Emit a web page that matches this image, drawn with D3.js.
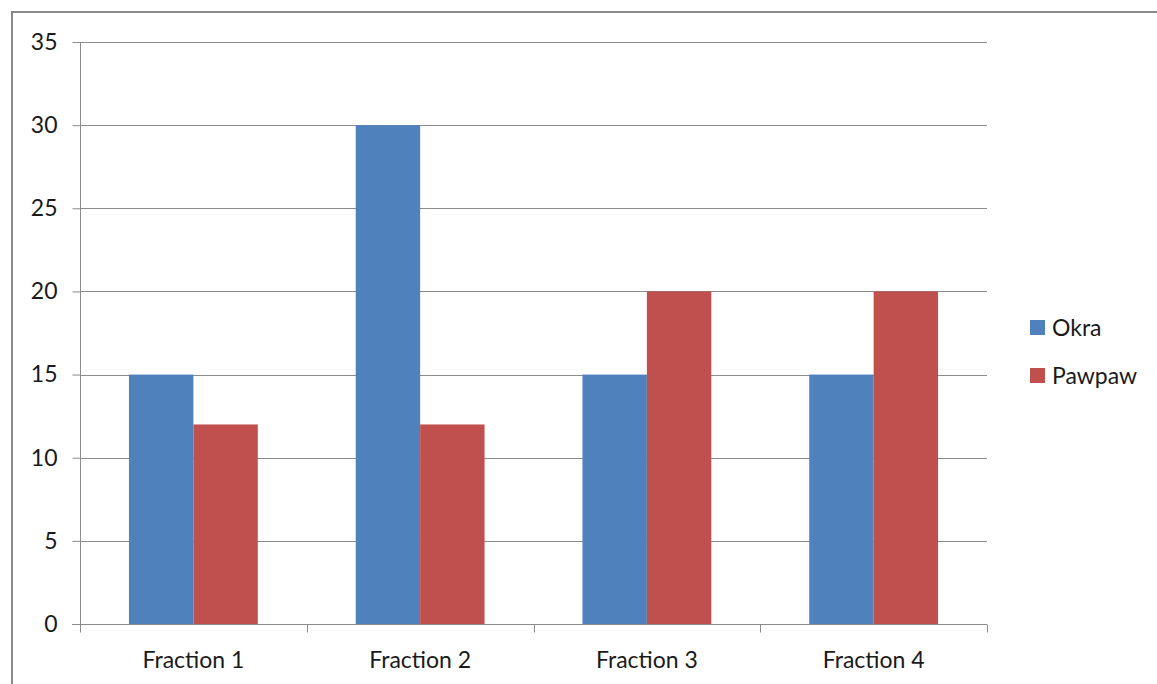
<!DOCTYPE html>
<html>
<head>
<meta charset="utf-8">
<script src="https://cdn.jsdelivr.net/npm/d3@7/dist/d3.min.js"></script>
<style>
  html, body { margin: 0; padding: 0; background: #fff; }
  svg { display: block; }
  text { font-family: Lato, "Open Sans", sans-serif; fill: #1a1a1a; }
</style>
</head>
<body>
<svg id="chart" width="1157" height="684"></svg>
<script>
const categories = ["Fraction 1", "Fraction 2", "Fraction 3", "Fraction 4"];
const seriesNames = ["Okra", "Pawpaw"];
const okra = [15, 30, 15, 15];
const pawpaw = [12, 12, 20, 20];
const yTicks = [0, 5, 10, 15, 20, 25, 30, 35];
const colors = ["#4F81BD", "#C0504D"];

const svg = d3.select("#chart");
const W = 1157, H = 684;
const FONT = "Lato, 'Open Sans', sans-serif";
const FS = "23px";

// outer chart frame
svg.append("rect")
  .attr("x", 12).attr("y", 12)
  .attr("width", W + 10).attr("height", H + 10)
  .attr("fill", "none").attr("stroke", "#8a8a8a").attr("stroke-width", 2);

const plot = { left: 80, right: 987, top: 42, bottom: 624 };

const x0 = d3.scaleBand().domain(categories)
  .range([plot.left, plot.right]).paddingInner(0).paddingOuter(0);
const x1 = d3.scaleBand().domain(seriesNames)
  .range([0, x0.bandwidth()]).paddingOuter(0.76).paddingInner(0);
const y = d3.scaleLinear().domain([0, 35]).range([plot.bottom, plot.top]);

// horizontal gridlines
svg.append("g").selectAll("line").data(yTicks.filter(d => d > 0)).join("line")
  .attr("x1", plot.left).attr("x2", plot.right)
  .attr("y1", d => Math.round(y(d)) + 0.5).attr("y2", d => Math.round(y(d)) + 0.5)
  .attr("stroke", "#8c8c8c").attr("stroke-width", 1);

// bars
const data = categories.map((c, i) => ({ cat: c, vals: [okra[i], pawpaw[i]] }));
const groups = svg.append("g").selectAll("g").data(data).join("g")
  .attr("transform", d => `translate(${x0(d.cat)},0)`);
groups.selectAll("rect").data(d => d.vals.map((v, j) => ({ v, s: seriesNames[j], j }))).join("rect")
  .attr("x", d => x1(d.s))
  .attr("width", x1.bandwidth())
  .attr("y", d => y(d.v))
  .attr("height", d => y(0) - y(d.v))
  .attr("fill", d => colors[d.j]);

// y axis
const yAxis = d3.axisLeft(y).tickValues(yTicks).tickSize(8).tickPadding(15);
const gy = svg.append("g").attr("transform", `translate(${plot.left + 0.5},0)`).call(yAxis);
gy.selectAll("line").attr("stroke", "#8c8c8c");
gy.select(".domain").attr("stroke", "#8c8c8c").attr("d", `M0,${plot.top}V${plot.bottom}`);
gy.selectAll("text").style("font-size", FS).attr("fill", "#1a1a1a").style("font-family", FONT);

// x axis
const xAxis = d3.axisBottom(x0).tickSize(0).tickPadding(27);
const gx = svg.append("g").attr("transform", `translate(0,${plot.bottom + 0.5})`).call(xAxis);
gx.select(".domain").attr("stroke", "#8c8c8c").attr("d", `M${plot.left - 8},0H${plot.right}`);
gx.selectAll("text").style("font-size", FS).attr("fill", "#1a1a1a").style("font-family", FONT);
// category boundary ticks
const bounds = categories.map(c => x0(c)).concat([plot.right]);
gx.selectAll(".bound").data(bounds).join("line").attr("class", "bound")
  .attr("x1", d => Math.round(d) + 0.5).attr("x2", d => Math.round(d) + 0.5)
  .attr("y1", 0).attr("y2", 8).attr("stroke", "#8c8c8c");

// legend
const legend = svg.append("g").selectAll("g").data(seriesNames).join("g")
  .attr("transform", (d, i) => `translate(1030,${320 + i * 48})`);
legend.append("rect").attr("width", 15).attr("height", 15)
  .attr("fill", (d, i) => colors[i]);
legend.append("text").attr("x", 22).attr("y", 7.5).attr("dy", "0.35em")
  .style("font-size", FS).text(d => d);
</script>
</body>
</html>
